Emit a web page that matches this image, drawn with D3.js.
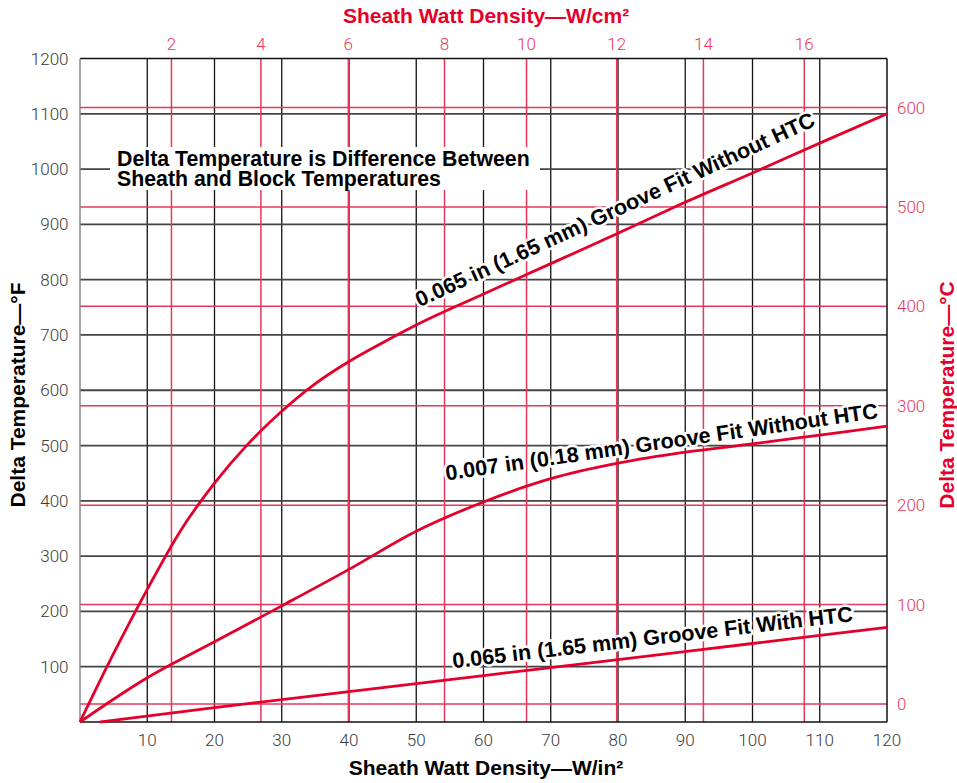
<!DOCTYPE html>
<html>
<head>
<meta charset="utf-8">
<script src="https://cdn.jsdelivr.net/npm/d3@7"></script>
<style>
  html, body { margin: 0; padding: 0; background: #fff; }
</style>
</head>
<body>
<div id="container"></div>
<script>
// svg size
const width = 957;
const height = 783;

// plot frame
const plotLeft = 80;
const plotRight = 887;
const plotTop = 58.5;
const plotBottom = 722;

// fonts
const boldFont = "'Liberation Sans', Arial, Helvetica, sans-serif";
const tickFont = "Roboto, 'Open Sans', sans-serif";
const titleSize = "21px";
const tickSize = "17px";

// colours
const red = "#e4002b";
const gridRed = "#e8375a";
const tickGray = "#3a3a3a";

// data: x in W/in², y in °F
const xTicks = [10, 20, 30, 40, 50, 60, 70, 80, 90, 100, 110, 120];
const yTicks = [100, 200, 300, 400, 500, 600, 700, 800, 900, 1000, 1100, 1200];
const cmTicks = [2, 4, 6, 8, 10, 12, 14, 16];
// where each W/cm² gridline sits on the W/in² axis, as drawn
const cmAsIn = [13.6, 26.9, 39.9, 54.2, 66.4, 79.8, 92.7, 107.7];
const cTicks = [0, 100, 200, 300, 400, 500, 600];

const wideGrooveX = [0, 5, 10, 15, 20, 25, 30, 35, 40, 45, 50, 60, 70, 80, 90, 100, 110, 120];
const wideGrooveY = [0, 124, 240, 347, 432, 503, 562, 612, 652, 686, 718, 774, 829, 884, 940, 993, 1047, 1100];

const narrowGrooveX = [0, 10, 20, 30, 40, 50, 60, 70, 80, 90, 100, 110, 120];
const narrowGrooveY = [0, 80, 145, 210, 276, 345, 398, 440, 468, 488, 503, 519, 535];

const htcGrooveX = [3, 20, 40, 60, 80, 100, 120];
const htcGrooveY = [0, 26, 55, 84, 113, 142, 171];

const curveNames = [
    "0.065 in (1.65 mm) Groove Fit Without HTC",
    "0.007 in (0.18 mm) Groove Fit Without HTC",
    "0.065 in (1.65 mm) Groove Fit With HTC"
];
const noteLines = ["Delta Temperature is Difference Between", "Sheath and Block Temperatures"];

// label anchors (data units): start and end of baseline
const labelPos = [
    {x0: 50.5, y0: 750, x1: 109.3, y1: 1078},
    {x0: 54.5, y0: 437, x1: 117.7, y1: 548},
    {x0: 55.5, y0: 97, x1: 114, y1: 181}
];

const svg = d3.select("#container").append("svg")
      .attr("width", width)
      .attr("height", height)
      .attr("viewBox", [0, 0, width, height]);

const x = d3.scaleLinear().domain([0, 120]).range([plotLeft, plotRight]);
const y = d3.scaleLinear().domain([0, 1200]).range([plotBottom, plotTop]);
const yC = d3.scaleLinear().domain([0, 600]).range([704, 107.5]);

const cmData = d3.zip(cmTicks, cmAsIn);

const grid = svg.append("g");

// black vertical grid
grid.selectAll("line.vx")
    .data(xTicks.slice(0, -1))
    .join("line")
    .attr("class", "vx")
    .attr("x1", d => x(d)).attr("x2", d => x(d))
    .attr("y1", plotTop).attr("y2", plotBottom)
    .attr("stroke", "#111").attr("stroke-width", 1.3);

// black horizontal grid
grid.selectAll("line.hy")
    .data(yTicks.slice(0, -1))
    .join("line")
    .attr("class", "hy")
    .attr("x1", plotLeft).attr("x2", plotRight)
    .attr("y1", d => y(d)).attr("y2", d => y(d))
    .attr("stroke", "#444").attr("stroke-width", 1.8);

// red metric grid
grid.selectAll("line.vc")
    .data(cmData)
    .join("line")
    .attr("class", "vc")
    .attr("x1", d => x(d[1])).attr("x2", d => x(d[1]))
    .attr("y1", plotTop).attr("y2", plotBottom)
    .attr("stroke", gridRed).attr("stroke-width", 1.5);

grid.selectAll("line.hc")
    .data(cTicks)
    .join("line")
    .attr("class", "hc")
    .attr("x1", plotLeft).attr("x2", plotRight)
    .attr("y1", d => yC(d)).attr("y2", d => yC(d))
    .attr("stroke", gridRed).attr("stroke-width", 1.5);

// frame
grid.append("line").attr("x1", plotLeft).attr("x2", plotRight).attr("y1", plotTop).attr("y2", plotTop)
    .attr("stroke", "#111").attr("stroke-width", 1.5);
grid.append("line").attr("x1", plotLeft).attr("x2", plotRight).attr("y1", plotBottom).attr("y2", plotBottom)
    .attr("stroke", "#111").attr("stroke-width", 1.5);
grid.append("line").attr("x1", plotLeft).attr("x2", plotLeft).attr("y1", plotTop).attr("y2", plotBottom)
    .attr("stroke", "#888").attr("stroke-width", 1.5);
grid.append("line").attr("x1", plotRight).attr("x2", plotRight).attr("y1", plotTop).attr("y2", plotBottom)
    .attr("stroke", "#111").attr("stroke-width", 1.5);

// note box
const note = svg.append("g");
note.append("rect")
    .attr("x", 110).attr("y", 147).attr("width", 430).attr("height", 43)
    .attr("fill", "#fff");
note.selectAll("text")
    .data(noteLines)
    .join("text")
    .attr("x", 117)
    .attr("y", (d, i) => 166 + i * 20)
    .attr("font-family", boldFont)
    .attr("font-weight", "bold")
    .attr("font-size", "21.3px")
    .attr("fill", "#000")
    .text(d => d);

// curves
const line = d3.line()
      .x(d => x(d[0]))
      .y(d => y(d[1]))
      .curve(d3.curveMonotoneX);

const series = [
    d3.zip(wideGrooveX, wideGrooveY),
    d3.zip(narrowGrooveX, narrowGrooveY),
    d3.zip(htcGrooveX, htcGrooveY)
];

// curve labels
svg.selectAll("text.curve")
    .data(labelPos)
    .join("text")
    .attr("class", "curve")
    .attr("transform", d => {
	const a = Math.atan2(y(d.y1) - y(d.y0), x(d.x1) - x(d.x0)) * 180 / Math.PI;
	return `translate(${x(d.x0)}, ${y(d.y0)}) rotate(${a})`;
    })
    .attr("font-family", boldFont)
    .attr("font-weight", "bold")
    .attr("font-size", "21.6px")
    .attr("fill", "#000")
    .attr("stroke", "#fff")
    .attr("stroke-width", 5)
    .attr("stroke-linejoin", "round")
    .attr("paint-order", "stroke")
    .text((d, i) => curveNames[i]);

svg.selectAll("path.curve")
    .data(series)
    .join("path")
    .attr("class", "curve")
    .attr("d", line)
    .attr("fill", "none")
    .attr("stroke", red)
    .attr("stroke-width", 2.8);

// tick labels
svg.append("g").selectAll("text")
    .data(xTicks)
    .join("text")
    .attr("x", d => x(d))
    .attr("y", 746)
    .attr("text-anchor", "middle")
    .attr("font-family", tickFont)
    .attr("font-weight", 300)
    .attr("font-size", tickSize)
    .attr("fill", tickGray)
    .text(d => d);

svg.append("g").selectAll("text")
    .data(yTicks)
    .join("text")
    .attr("x", 68.5)
    .attr("y", d => y(d) + 6)
    .attr("text-anchor", "end")
    .attr("font-family", tickFont)
    .attr("font-weight", 300)
    .attr("font-size", tickSize)
    .attr("fill", tickGray)
    .text(d => d);

svg.append("g").selectAll("text")
    .data(cmData)
    .join("text")
    .attr("x", d => x(d[1]))
    .attr("y", 49.5)
    .attr("text-anchor", "middle")
    .attr("font-family", tickFont)
    .attr("font-weight", 300)
    .attr("font-size", tickSize)
    .attr("fill", gridRed)
    .text(d => d[0]);

svg.append("g").selectAll("text")
    .data(cTicks)
    .join("text")
    .attr("x", 897)
    .attr("y", d => yC(d) + 6)
    .attr("text-anchor", "start")
    .attr("font-family", tickFont)
    .attr("font-weight", 300)
    .attr("font-size", tickSize)
    .attr("fill", gridRed)
    .text(d => d);

// axis titles
function title(txt, tx, ty, rot, color) {
    svg.append("text")
	.attr("transform", `translate(${tx}, ${ty}) rotate(${rot})`)
	.attr("text-anchor", "middle")
	.attr("font-family", boldFont)
	.attr("font-weight", "bold")
	.attr("font-size", titleSize)
	.attr("fill", color)
	.text(txt);
}

title("Sheath Watt Density\u2014W/in\u00b2", 486, 775, 0, "#000");
title("Sheath Watt Density\u2014W/cm\u00b2", 486, 23, 0, red);
title("Delta Temperature\u2014\u00b0F", 25, 395, -90, "#000");
title("Delta Temperature\u2014\u00b0C", 954, 395, -90, red);
</script>
</body>
</html>
